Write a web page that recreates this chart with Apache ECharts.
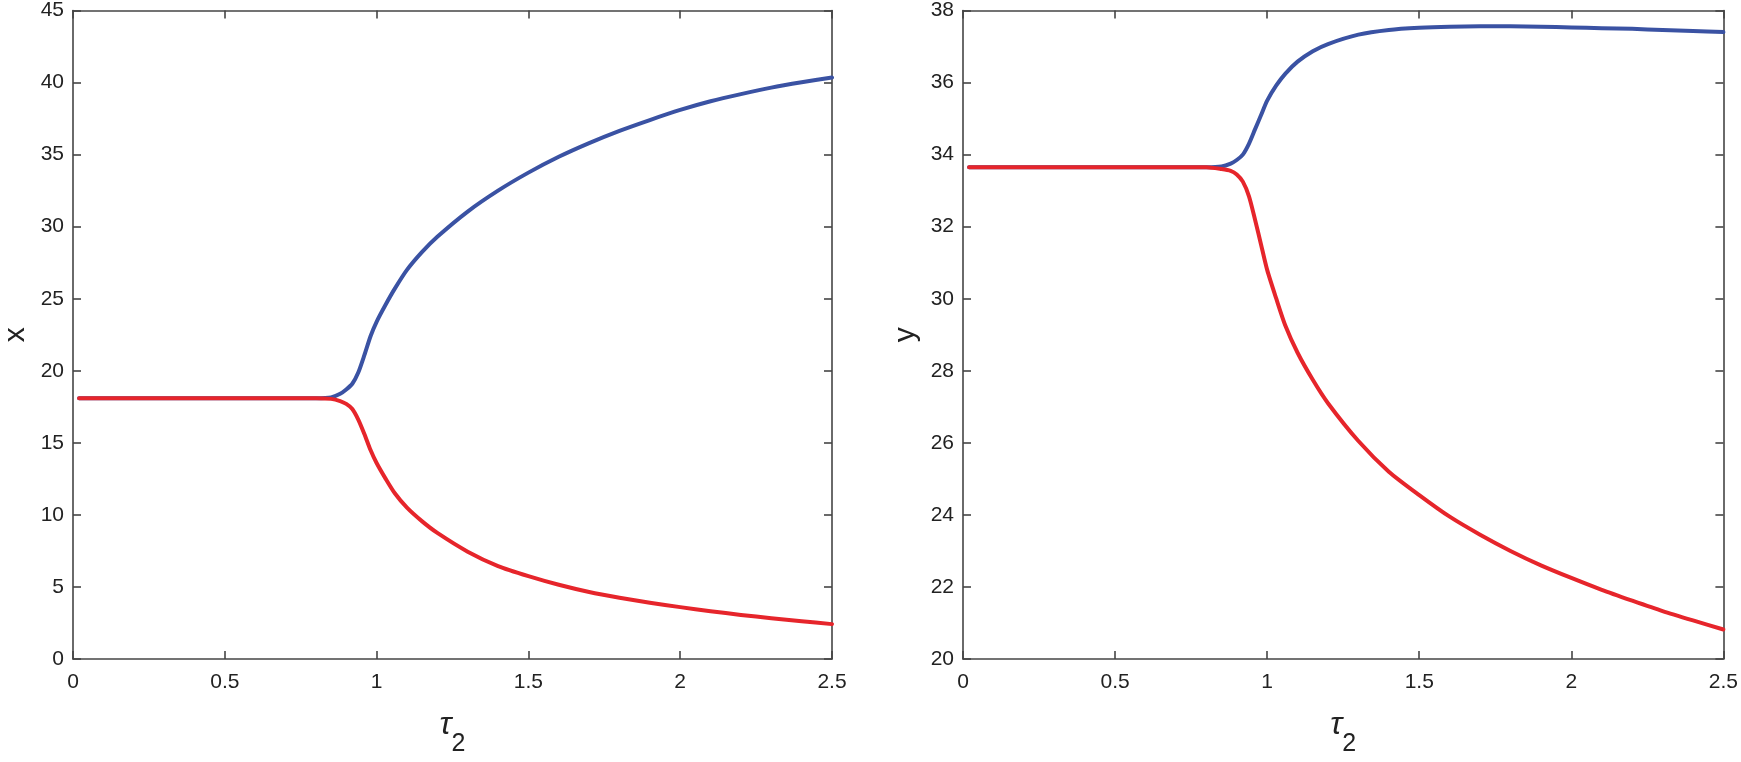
<!DOCTYPE html>
<html lang="en">
<head>
    <meta charset="UTF-8">
    <title>x, y vs tau2</title>
    <script src="https://cdn.jsdelivr.net/npm/echarts@6/dist/echarts.min.js"></script>
    <style>
        html, body { margin: 0; padding: 0; background: #fff; }
        #chart { width: 1741px; height: 762px; }
    </style>
</head>
<body>
    <div id="chart"></div>

    <script>
        // tau_2 sample points
        var tau = [0.02, 0.1, 0.2, 0.3, 0.4, 0.5, 0.6, 0.7, 0.8, 0.85, 0.88, 0.9, 0.92, 0.94, 0.96, 0.98,
                   1.0, 1.03, 1.06, 1.1, 1.15, 1.2, 1.3, 1.4, 1.5, 1.6, 1.7, 1.8, 1.9, 2.0,
                   2.1, 2.2, 2.3, 2.4, 2.5];

        // left panel: x
        var xBlue = [18.1, 18.1, 18.1, 18.1, 18.1, 18.1, 18.1, 18.1, 18.1, 18.15, 18.4, 18.7, 19.1, 19.9, 21.1, 22.4,
                     23.4, 24.6, 25.7, 27.0, 28.25, 29.3, 31.05, 32.5, 33.75, 34.85, 35.8, 36.65, 37.4, 38.1,
                     38.7, 39.2, 39.65, 40.02, 40.35];
        var xRed  = [18.1, 18.1, 18.1, 18.1, 18.1, 18.1, 18.1, 18.1, 18.1, 18.05, 17.9, 17.7, 17.35, 16.6, 15.6, 14.5,
                     13.6, 12.5, 11.5, 10.5, 9.55, 8.75, 7.45, 6.45, 5.75, 5.15, 4.65, 4.25, 3.9, 3.6,
                     3.32, 3.06, 2.83, 2.62, 2.42];

        // right panel: y
        var yBlue = [33.65, 33.65, 33.65, 33.65, 33.65, 33.65, 33.65, 33.65, 33.65, 33.67, 33.75, 33.85, 34.0, 34.3, 34.7, 35.1,
                     35.5, 35.92, 36.25, 36.58, 36.87, 37.07, 37.33, 37.46, 37.52, 37.55, 37.56, 37.56, 37.55, 37.53,
                     37.51, 37.49, 37.46, 37.43, 37.4];
        var yRed  = [33.65, 33.65, 33.65, 33.65, 33.65, 33.65, 33.65, 33.65, 33.65, 33.6, 33.55, 33.45, 33.25, 32.85, 32.2, 31.5,
                     30.8, 30.0, 29.25, 28.5, 27.75, 27.1, 26.05, 25.2, 24.55, 23.95, 23.45, 23.0, 22.6, 22.25,
                     21.92, 21.62, 21.33, 21.07, 20.82];

        var xTicks = { min: 0, max: 2.5, interval: 0.5 };
        var leftTicks = { min: 0, max: 45, interval: 5 };
        var rightTicks = { min: 20, max: 38, interval: 2 };

        var blue = '#3a52a3';
        var red = '#e6252b';
        var axisColor = '#454545';
        var font = '"Liberation Sans", Arial, Helvetica, sans-serif';

        function pairs(xs, ys) {
            return xs.map(function (t, i) { return [t, ys[i]]; });
        }

        function valueAxis(range, gridIndex, pos, labels, name) {
            var a = {
                type: 'value',
                gridIndex: gridIndex,
                position: pos,
                min: range.min,
                max: range.max,
                interval: range.interval,
                splitLine: { show: false },
                axisLine: { show: true, onZero: false, lineStyle: { color: axisColor, width: 1.6 } },
                axisTick: { show: true, inside: true, length: 8, lineStyle: { color: axisColor, width: 1.6 } },
                axisLabel: {
                    show: labels,
                    showMinLabel: true,
                    showMaxLabel: true,
                    color: '#222',
                    fontFamily: font,
                    fontSize: 21
                }
            };
            if (name) {
                a.name = name.text;
                a.nameLocation = 'middle';
                a.nameGap = name.gap;
                a.nameRotate = name.rotate;
                a.nameTextStyle = name.style;
            }
            return a;
        }

        var tauName = {
            text: '{t|τ}{s|2}',
            gap: 50,
            rotate: 0,
            style: {
                color: '#222',
                fontFamily: font,
                rich: {
                    t: { fontSize: 32, fontFamily: font, fontStyle: 'italic', color: '#222', padding: [0, 0, 18, 0] },
                    s: { fontSize: 25, fontFamily: font, color: '#222', padding: [20, 0, 0, 0] }
                }
            }
        };

        function yName(txt) {
            return {
                text: txt,
                gap: 42,
                rotate: 90,
                style: { color: '#222', fontFamily: font, fontSize: 30 }
            };
        }

        let chart = echarts.init(document.getElementById('chart'), null, { renderer: 'canvas' });

        var option = {
            animation: false,
            backgroundColor: '#ffffff',
            grid: [
                { left: 71, top: 9, width: 761, height: 650 },
                { left: 963, top: 9, width: 762, height: 650 }
            ],
            xAxis: [
                valueAxis(xTicks, 0, 'bottom', true, tauName),
                valueAxis(xTicks, 0, 'top', false),
                valueAxis(xTicks, 1, 'bottom', true, tauName),
                valueAxis(xTicks, 1, 'top', false)
            ],
            yAxis: [
                valueAxis(leftTicks, 0, 'left', true, yName('x')),
                valueAxis(leftTicks, 0, 'right', false),
                valueAxis(rightTicks, 1, 'left', true, yName('y')),
                valueAxis(rightTicks, 1, 'right', false)
            ],
            series: [
                { type: 'line', xAxisIndex: 0, yAxisIndex: 0, data: pairs(tau, xBlue) },
                { type: 'line', xAxisIndex: 0, yAxisIndex: 0, data: pairs(tau, xRed) },
                { type: 'line', xAxisIndex: 2, yAxisIndex: 2, data: pairs(tau, yBlue) },
                { type: 'line', xAxisIndex: 2, yAxisIndex: 2, data: pairs(tau, yRed) }
            ].map(function (s, i) {
                s.showSymbol = false;
                s.symbol = 'none';
                s.smooth = 0.25;
                s.lineStyle = { color: i % 2 === 0 ? blue : red, width: 4, join: 'round', cap: 'round' };
                s.itemStyle = { color: i % 2 === 0 ? blue : red };
                return s;
            })
        };

        // axis label margins
        option.xAxis.forEach(function (a) { a.axisLabel.margin = 13; });
        option.yAxis.forEach(function (a) { a.axisLabel.margin = 9; });

        chart.setOption(option);
    </script>
</body>
</html>
